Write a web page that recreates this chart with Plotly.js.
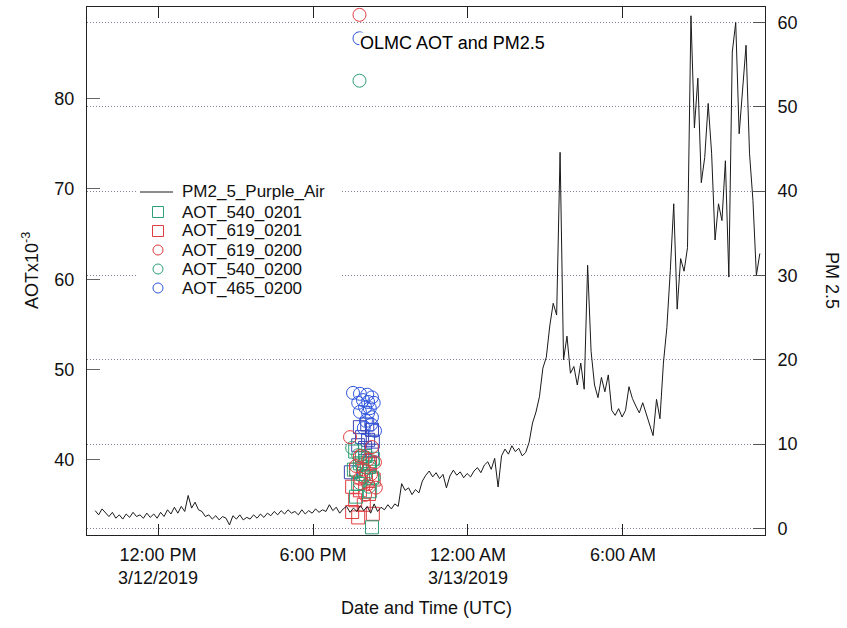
<!DOCTYPE html>
<html><head><meta charset="utf-8">
<script src="https://cdn.plot.ly/plotly-3.0.1.min.js"></script>
<style>html,body{margin:0;padding:0;background:#fff}#chart{width:847px;height:628px}</style>
</head><body><div id="chart"></div>
<script>
// ---- PM2.5 series: regular 8-minute samples starting 3/12/2019 09:34 UTC ----
const pmStartMinutes = 9 * 60 + 34;
const pmStepMinutes = 8;
const pmValues = [
  2.1,1.6,2.3,1.8,1.4,1.9,1.2,1.6,1.1,1.7,
  1.3,1.9,1.4,1.6,1.2,1.8,1.3,1.7,1.2,1.9,
  1.4,2.2,1.7,2.5,1.8,2.6,2.0,3.9,2.4,3.1,
  2.2,2.0,1.4,1.6,1.1,1.5,1.0,1.4,1.2,0.4,
  1.5,1.1,1.6,1.0,1.3,1.1,1.6,1.2,1.7,1.3,
  1.8,1.5,2.0,1.6,2.1,1.7,2.2,1.8,2.0,1.6,
  2.2,1.7,2.1,1.8,2.3,1.9,2.2,2.0,2.8,2.1,
  2.5,1.8,2.3,2.6,1.9,2.4,2.0,2.7,2.1,2.6,
  1.8,2.9,2.0,2.5,2.2,2.8,2.3,2.9,2.6,5.3,
  4.5,4.8,4.0,4.6,4.2,5.6,6.3,6.8,6.1,6.6,
  5.9,6.4,4.8,6.2,6.9,6.3,6.7,6.0,6.5,6.1,
  6.8,7.2,6.6,7.5,7.9,7.0,8.3,4.9,8.6,9.4,
  8.8,9.8,9.1,9.5,8.6,9.0,10.2,12.5,13.8,15.6,
  19.0,20.3,24.0,26.7,25.3,44.6,20.0,22.8,18.4,19.2,
  17.0,19.6,16.5,31.2,21.0,17.0,15.5,17.9,16.2,18.2,
  14.0,13.4,14.2,13.2,14.0,16.8,15.4,14.5,13.7,14.9,
  13.5,12.2,11.0,15.3,13.0,19.6,23.8,30.6,38.5,26.0,
  32.0,30.5,33.3,60.8,47.5,53.4,41.0,44.0,50.4,44.5,
  34.2,38.5,36.5,43.6,29.8,56.5,60.0,46.8,52.3,57.3,
  44.5,38.9,30.0,32.6
];

// ---- AOT (x10^-3) samples ----
const aot465_0200_t = ['2019-03-12 19:48','2019-03-12 19:33','2019-03-12 19:49','2019-03-12 20:06','2019-03-12 20:17','2019-03-12 19:56','2019-03-12 20:08','2019-03-12 19:45','2019-03-12 20:21','2019-03-12 20:01','2019-03-12 20:12','2019-03-12 19:49','2019-03-12 20:08','2019-03-12 20:17','2019-03-12 20:03','2019-03-12 20:15','2019-03-12 19:58','2019-03-12 20:24'];
const aot465_0200_v = [86.7,47.4,47.3,47.2,46.9,46.6,46.4,46.3,46.3,45.8,45.7,45.3,45.2,44.7,44.3,43.9,43.5,43.2];

const aot465_0201_t = ['2019-03-12 19:49','2019-03-12 20:06','2019-03-12 20:17','2019-03-12 19:54','2019-03-12 20:08','2019-03-12 20:19','2019-03-12 19:45','2019-03-12 20:01','2019-03-12 20:17','2019-03-12 19:28','2019-03-12 20:12'];
const aot465_0201_v = [43.6,43.9,43.3,42.5,42.2,42.0,41.6,41.3,41.0,38.6,39.6];

const aot619_0200_t = ['2019-03-12 19:48','2019-03-12 19:26','2019-03-12 20:17','2019-03-12 19:49','2019-03-12 20:08','2019-03-12 20:24','2019-03-12 19:40','2019-03-12 19:58','2019-03-12 20:15','2019-03-12 19:49','2019-03-12 20:08','2019-03-12 20:26','2019-03-12 20:01'];
const aot619_0200_v = [89.3,42.5,41.4,40.4,40.0,39.7,39.3,38.9,38.4,37.9,37.3,36.9,36.1];

const aot540_0200_t = ['2019-03-12 19:48','2019-03-12 19:31','2019-03-12 19:45','2019-03-12 20:03','2019-03-12 20:19','2019-03-12 19:54','2019-03-12 20:12','2019-03-12 19:40','2019-03-12 20:01','2019-03-12 20:21','2019-03-12 19:49','2019-03-12 20:10'];
const aot540_0200_v = [82.0,41.3,40.5,40.2,39.8,39.4,39.1,38.6,38.2,38.0,37.4,37.0];

const aot540_0201_t = ['2019-03-12 19:38','2019-03-12 20:01','2019-03-12 20:19','2019-03-12 19:49','2019-03-12 20:10','2019-03-12 19:35','2019-03-12 19:56','2019-03-12 20:17','2019-03-12 19:45','2019-03-12 20:12','2019-03-12 19:40','2019-03-12 20:17'];
const aot540_0201_v = [40.9,40.4,40.1,39.6,39.2,38.9,38.4,38.0,37.3,36.5,35.9,32.5];

const aot619_0201_t = ['2019-03-12 19:54','2019-03-12 20:12','2019-03-12 19:40','2019-03-12 20:03','2019-03-12 20:21','2019-03-12 19:31','2019-03-12 19:49','2019-03-12 20:10','2019-03-12 19:38','2019-03-12 19:58','2019-03-12 19:31','2019-03-12 19:45','2019-03-12 20:19'];
const aot619_0201_v = [40.2,39.5,38.9,38.2,37.8,37.0,36.6,36.2,35.5,35.0,34.2,33.6,34.0];

// ---- ticks / labels ----
const xTickVals = ['2019-03-12 12:00','2019-03-12 18:00','2019-03-13 00:00','2019-03-13 06:00'];
const xTickText = ['12:00 PM<br>3/12/2019','6:00 PM','12:00 AM<br>3/13/2019','6:00 AM'];
const leftTicks = [40,50,60,70,80];
const rightTicks = [0,10,20,30,40,50,60];
const legendNames = ['PM2_5_Purple_Air','AOT_540_0201','AOT_619_0201','AOT_619_0200','AOT_540_0200','AOT_465_0200'];

const GREEN = '#2e9f76', RED = '#e03d42', BLUE = '#2f55dd', NAVY = '#3a45b8';

function pad(n){ return (n < 10 ? '0' : '') + n; }
function pmTime(i){
  const m = pmStartMinutes + i * pmStepMinutes;
  const day = 12 + Math.floor(m / 1440);
  const mm = m % 1440;
  return '2019-03-' + day + ' ' + pad(Math.floor(mm / 60)) + ':' + pad(mm % 60);
}
const pmTimes = pmValues.map((v, i) => pmTime(i));

function mk(t, v, sym, color){
  return {x: t, y: v, type: 'scatter', mode: 'markers', yaxis: 'y', showlegend: false, hoverinfo: 'skip',
    marker: {symbol: sym, size: 13, color: color, line: {color: color, width: 1}}};
}

const traces = [
  mk(aot465_0201_t, aot465_0201_v, 'square-open', NAVY),
  mk(aot619_0201_t, aot619_0201_v, 'square-open', RED),
  mk(aot540_0201_t, aot540_0201_v, 'square-open', GREEN),
  mk(aot540_0200_t, aot540_0200_v, 'circle-open', GREEN),
  mk(aot619_0200_t, aot619_0200_v, 'circle-open', RED),
  mk(aot465_0200_t, aot465_0200_v, 'circle-open', BLUE),
  {x: pmTimes, y: pmValues, type: 'scatter', mode: 'lines', yaxis: 'y2', showlegend: false, hoverinfo: 'skip',
   line: {color: '#1a1a1a', width: 1}}
];

// plot area in pixels: x 87..765, y 7..535
const PL = 87, PR = 765, PT = 7, PB = 535;
function px(p){ return (p - PL) / (PR - PL); }
function py(p){ return (PB - p) / (PB - PT); }

const FONT = 'Liberation Sans, Arial, Helvetica, sans-serif';
const annotations = [
  {text: 'OLMC AOT and PM2.5', xref: 'paper', yref: 'paper', x: px(359), y: py(43), xanchor: 'left', yanchor: 'middle',
   showarrow: false, bgcolor: '#ffffff', borderpad: 0, font: {family: FONT, size: 18, color: '#000'}},
  {text: 'Date and Time (UTC)', xref: 'paper', yref: 'paper', x: 0.5, y: py(608), xanchor: 'center', yanchor: 'middle',
   showarrow: false, font: {family: FONT, size: 18, color: '#111'}},
  {text: 'AOTx10<sup>-3</sup>', xref: 'paper', yref: 'paper', x: px(30), y: py(270), xanchor: 'center', yanchor: 'middle',
   textangle: -90, showarrow: false, font: {family: FONT, size: 18, color: '#111'}},
  {text: 'PM 2.5', xref: 'paper', yref: 'paper', x: px(832), y: py(281), xanchor: 'center', yanchor: 'middle',
   textangle: 90, showarrow: false, font: {family: FONT, size: 18, color: '#111'}}
];
const rows = [192, 212, 231, 250, 269, 288];
legendNames.forEach((n, i) => {
  annotations.push({text: n, xref: 'paper', yref: 'paper', x: px(180), y: py(rows[i]), xanchor: 'left', yanchor: 'middle',
    showarrow: false, font: {family: FONT, size: 17, color: '#111'}});
});

const shapes = [
  {type: 'rect', xref: 'paper', yref: 'paper', x0: px(137), x1: px(340), y0: py(300), y1: py(181),
   fillcolor: '#ffffff', line: {width: 0}, layer: 'above'},
  {type: 'line', xref: 'paper', yref: 'paper', x0: px(140), x1: px(173), y0: py(192), y1: py(192),
   line: {color: '#1a1a1a', width: 1}, layer: 'above'}
];
const legendSyms = [['rect', GREEN], ['rect', RED], ['circle', RED], ['circle', GREEN], ['circle', BLUE]];
legendSyms.forEach((s, i) => {
  const r = rows[i + 1], h = s[0] === 'rect' ? 5.5 : 5;
  shapes.push({type: s[0], xref: 'paper', yref: 'paper', x0: px(158 - h), x1: px(158 + h), y0: py(r + h), y1: py(r - h),
    fillcolor: 'rgba(0,0,0,0)', line: {color: s[1], width: 1}, layer: 'above'});
});

const layout = {
  width: 847, height: 628,
  margin: {l: PL, r: 847 - PR, t: PT, b: 628 - PB, pad: 0},
  paper_bgcolor: '#ffffff', plot_bgcolor: '#ffffff',
  showlegend: false,
  font: {family: FONT, size: 18, color: '#111'},
  xaxis: {type: 'date', range: ['2019-03-12 09:15', '2019-03-13 11:30'], tickmode: 'array', tickvals: xTickVals, ticktext: xTickText,
    ticks: 'inside', ticklen: 11, tickwidth: 1, tickcolor: '#222', showline: true, linecolor: '#222', linewidth: 1,
    mirror: 'ticks', showgrid: false, zeroline: false, tickfont: {family: FONT, size: 18, color: '#111'}, ticklabelstandoff: 3},
  yaxis: {range: [31.65, 90.17], tickmode: 'array', tickvals: leftTicks, ticks: 'inside', ticklen: 13, tickwidth: 1,
    tickcolor: '#666', showline: true, linecolor: '#222', linewidth: 1, showgrid: false, zeroline: false,
    tickfont: {family: FONT, size: 18, color: '#111'}, ticklabelstandoff: 8},
  yaxis2: {overlaying: 'y', side: 'right', range: [-0.79, 61.84], tickmode: 'array', tickvals: rightTicks, ticks: 'inside',
    ticklen: 12, tickwidth: 1, tickcolor: '#555', showline: true, linecolor: '#222', linewidth: 1,
    showgrid: true, gridcolor: '#80809a', griddash: '1px,2px', gridwidth: 1, zeroline: false,
    tickfont: {family: FONT, size: 18, color: '#111'}, ticklabelstandoff: 8},
  annotations: annotations,
  shapes: shapes
};

Plotly.newPlot('chart', traces, layout, {staticPlot: true, displayModeBar: false});
</script>
</body></html>
